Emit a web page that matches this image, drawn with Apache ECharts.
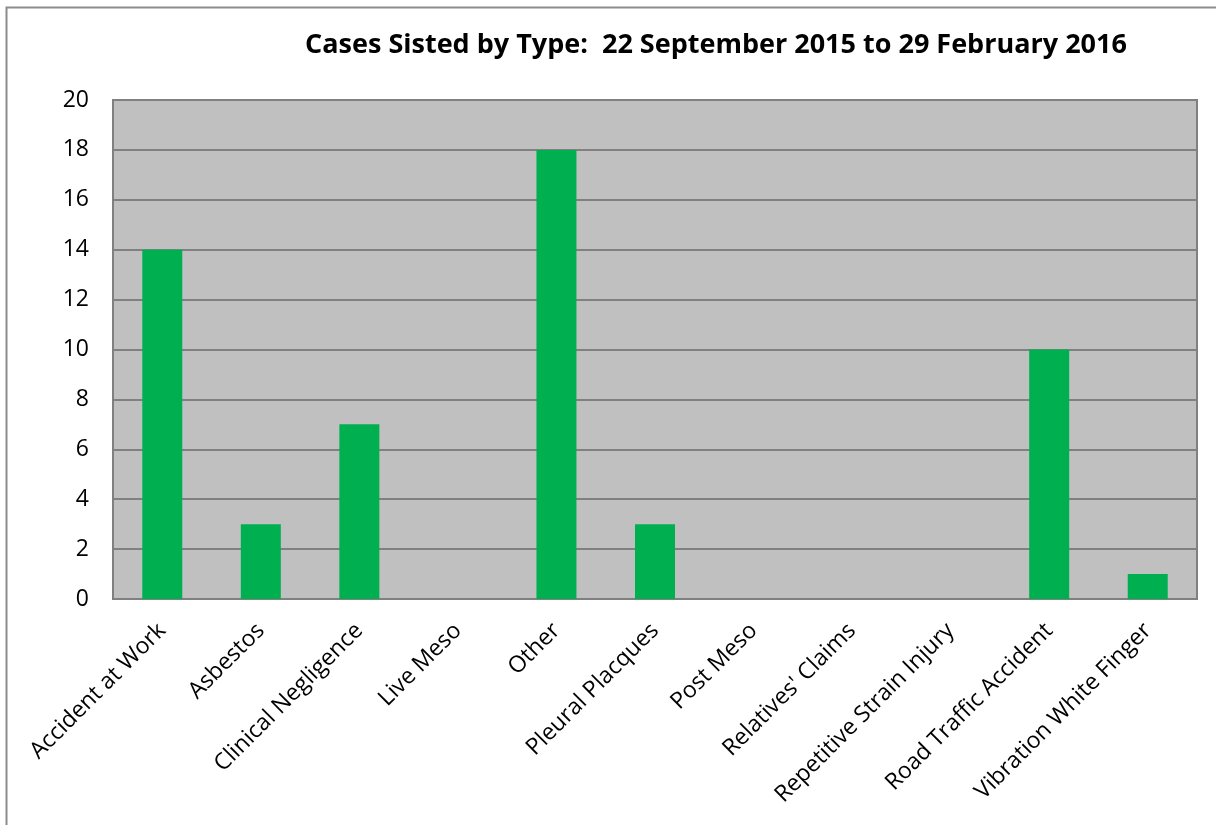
<!DOCTYPE html>
<html><head><meta charset="utf-8">
<script src="https://cdn.jsdelivr.net/npm/echarts@6/dist/echarts.min.js"></script>
<style>html,body{margin:0;padding:0;background:#fff}#c{width:1216px;height:825px}</style>
</head><body><div id="c"></div>
<script>
const categories = ["Accident at Work","Asbestos","Clinical Negligence","Live Meso","Other","Pleural Placques","Post Meso","Relatives' Claims","Repetitive Strain Injury","Road Traffic Accident","Vibration White Finger"];
const values = [14,3,7,0,18,3,0,0,0,10,1];
const yTicks = [0,2,4,6,8,10,12,14,16,18,20];
const titleText = "Cases Sisted by Type:  22 September 2015 to 29 February 2016";

const chart = echarts.init(document.getElementById('c'), null, {renderer:'canvas'});
const FONT = "'Open Sans', sans-serif";
chart.setOption({
  animation:false,
  backgroundColor:'#fff',
  title:{text:titleText,left:711,top:27,textAlign:'center',
    textStyle:{fontFamily:FONT,fontWeight:'bold',fontSize:27,color:'#000'}},
  graphic:[{type:'rect',shape:{x:6.5,y:7.5,width:1230,height:840},
    style:{fill:'none',stroke:'#8c8c8c',lineWidth:2},silent:true,z:-1}],
  grid:{left:113,right:19,top:100,bottom:226,show:true,backgroundColor:'#c0c0c0',borderColor:'#808080',borderWidth:2},
  xAxis:{type:'category',data:categories,
    axisLine:{lineStyle:{color:'#808080',width:2}},axisTick:{show:false},
    axisLabel:{rotate:45,interval:0,fontFamily:FONT,fontSize:23,color:'#000',margin:28}},
  yAxis:{type:'value',min:yTicks[0],max:yTicks[yTicks.length-1],interval:2,
    axisLine:{show:false},axisTick:{show:false},
    splitLine:{lineStyle:{color:'#808080',width:2}},
    axisLabel:{fontFamily:FONT,fontSize:23,color:'#000',margin:24}},
  series:[{type:'bar',data:values,barWidth:40,itemStyle:{color:'#00b050'}}]
});
</script></body></html>
